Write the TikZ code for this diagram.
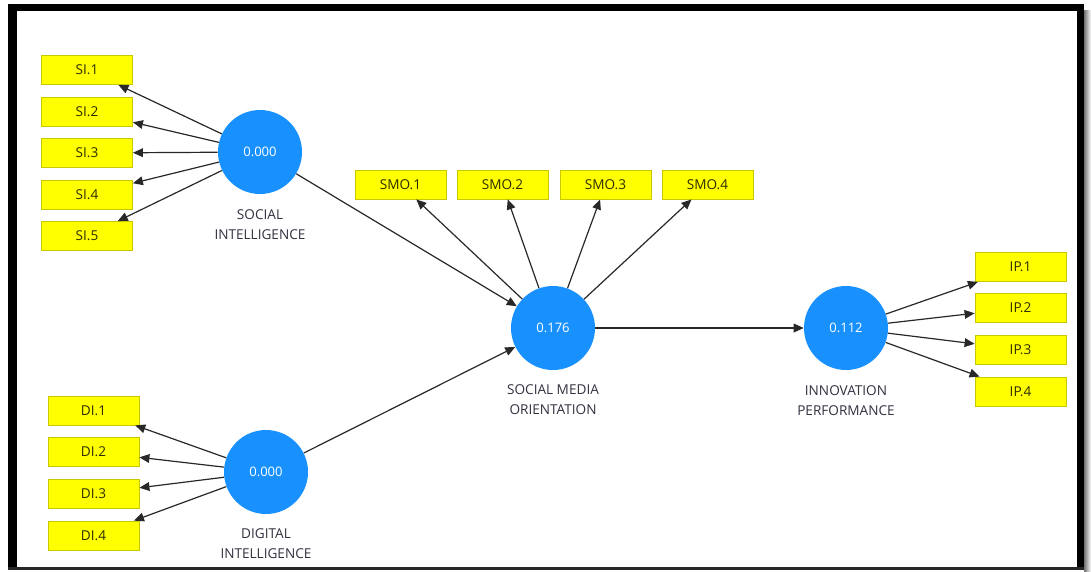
\documentclass[tikz,border=0pt]{standalone}
\usepackage{fontspec}
\setmainfont{Open Sans}
\usetikzlibrary{arrows.meta,shapes.geometric}
\definecolor{circblue}{RGB}{24,145,255}
\definecolor{boxyellow}{RGB}{255,255,0}
\definecolor{boxedge}{RGB}{200,200,0}
\definecolor{boxtext}{RGB}{45,45,0}
\definecolor{labtext}{RGB}{50,50,65}
\definecolor{linecol}{RGB}{40,40,40}
\tikzset{
  indbox/.style={draw=boxedge, fill=boxyellow, line width=0.6pt, minimum width=68.25pt, minimum height=21.75pt, inner sep=0pt, text=boxtext, font=\fontsize{10.2}{12}\selectfont},
  latent/.style={circle, fill=circblue, draw=none, minimum size=63pt, inner sep=0pt, text=white, font=\fontsize{9.8}{11}\selectfont},
  lab/.style={align=center, text=labtext, font=\fontsize{10.2}{15}\selectfont, inner sep=0pt},
  arr/.style={draw=linecol, line width=0.9pt, -{Triangle[length=7.5pt,width=6.5pt]}}
}
\begin{document}
\begin{tikzpicture}[x=0.75pt,y=-0.75pt]
\useasboundingbox (0,0) rectangle (1091,571);
\fill[white] (0,0) rectangle (1091,571);
% shadow
\shade[left color=black!55, right color=white] (1084,10) rectangle (1091,571);
% frame
\fill[black] (8,4) rectangle (1084,11);
\fill[black] (8,4) rectangle (17,569);
\fill[black] (1077,4) rectangle (1084,569);
\fill[black!85] (8,567) rectangle (1084,569.5);

% latent variables
\node[latent] (si) at (260,152) {0.000};
\node[latent] (di) at (266,472) {0.000};
\node[latent] (smo) at (553,328) {0.176};
\node[latent] (ip) at (846,328) {0.112};

\node[lab] (silab) at (260,225) {SOCIAL\\INTELLIGENCE};
\node[lab] (dilab) at (266,544) {DIGITAL\\INTELLIGENCE};
\node[lab] (smolab) at (553,400) {SOCIAL MEDIA\\ORIENTATION};
\node[lab] (iplab) at (846,401) {INNOVATION\\PERFORMANCE};

% indicators
\node[indbox] (si1) at (87,70) {SI.1};
\node[indbox] (si2) at (87,111.5) {SI.2};
\node[indbox] (si3) at (87,153) {SI.3};
\node[indbox] (si4) at (87,194.5) {SI.4};
\node[indbox] (si5) at (87,236) {SI.5};

\node[indbox] (di1) at (93.5,410.5) {DI.1};
\node[indbox] (di2) at (93.5,452) {DI.2};
\node[indbox] (di3) at (93.5,493.5) {DI.3};
\node[indbox] (di4) at (93.5,535.5) {DI.4};

\node[indbox] (smo1) at (400.5,184.5) {SMO.1};
\node[indbox] (smo2) at (502.5,184.5) {SMO.2};
\node[indbox] (smo3) at (605.5,184.5) {SMO.3};
\node[indbox] (smo4) at (707.5,184.5) {SMO.4};

\node[indbox] (ip1) at (1020.5,267) {IP.1};
\node[indbox] (ip2) at (1020.5,308) {IP.2};
\node[indbox] (ip3) at (1020.5,349.5) {IP.3};
\node[indbox] (ip4) at (1020.5,391.5) {IP.4};

% loadings
\foreach \t in {si1,si2,si3,si4,si5} \draw[arr] (si) -- (\t);
\foreach \t in {di1,di2,di3,di4} \draw[arr] (di) -- (\t);
\foreach \t in {smo1,smo2,smo3,smo4} \draw[arr] (smo) -- (\t);
\foreach \t in {ip1,ip2,ip3,ip4} \draw[arr] (ip) -- (\t);

% structural paths
\draw[arr] (si) -- (smo);
\draw[arr] (di) -- (smo);
\draw[arr] (smo) -- (ip);
\end{tikzpicture}
\end{document}
